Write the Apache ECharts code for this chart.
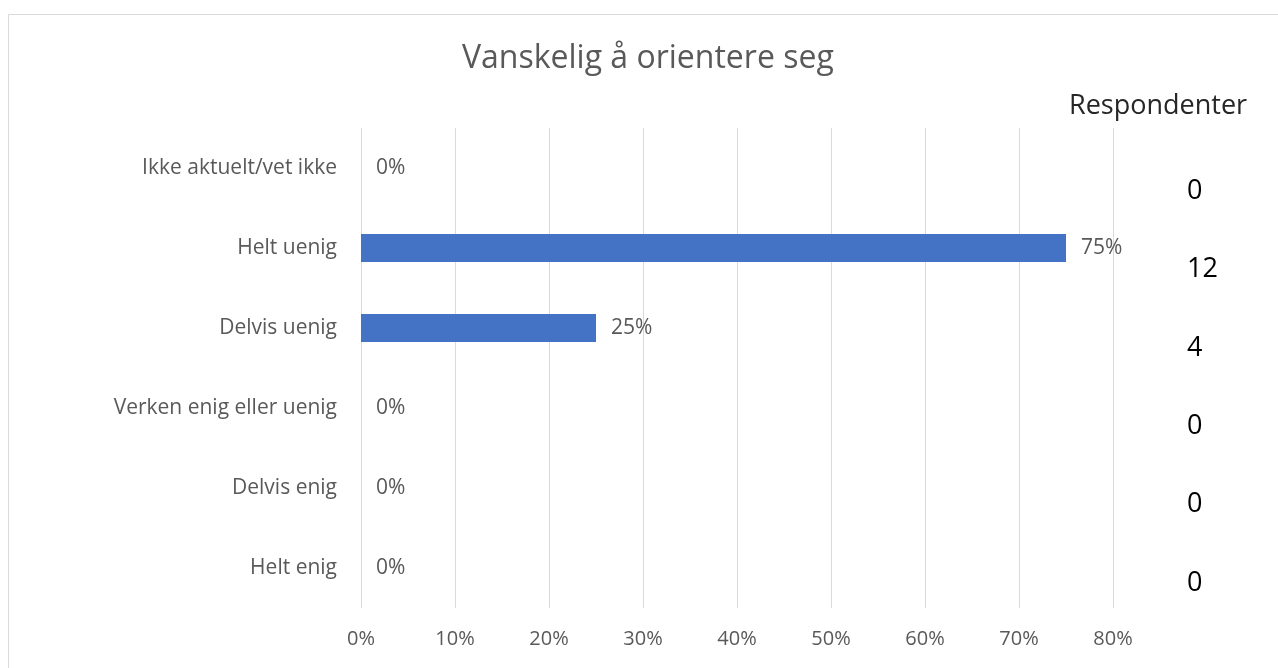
<!DOCTYPE html>
<html>
<head>
<meta charset="utf-8">
<script src="https://cdn.jsdelivr.net/npm/echarts@6/dist/echarts.min.js"></script>
<style>
html,body{margin:0;padding:0;background:#fff;}
#chart{width:1278px;height:668px;}
</style>
</head>
<body>
<div id="chart"></div>
<script>
const titleText = 'Vanskelig å orientere seg';
const categories = ['Ikke aktuelt/vet ikke', 'Helt uenig', 'Delvis uenig', 'Verken enig eller uenig', 'Delvis enig', 'Helt enig'];
const shares = [0, 0.75, 0.25, 0, 0, 0];
const respondents = [0, 12, 4, 0, 0, 0];
const respondentsHeader = 'Respondenter';
const xTicks = [0, 0.1, 0.2, 0.3, 0.4, 0.5, 0.6, 0.7, 0.8];

const FONT = 'Open Sans';
const chart = echarts.init(document.getElementById('chart'));
chart.setOption({
  animation: false,
  textStyle: { fontFamily: FONT },
  title: [
    { text: titleText, left: 457, top: 38, textStyle: { fontFamily: FONT, fontSize: 32, fontWeight: 'normal', color: '#595959' } },
    { text: respondentsHeader, left: 1064, top: 88, textStyle: { fontFamily: FONT, fontSize: 27, fontWeight: 'normal', color: '#262626' } }
  ],
  graphic: [{
    type: 'rect', silent: true,
    shape: { x: 8.5, y: 14.5, width: 1300, height: 700 },
    style: { fill: 'none', stroke: '#d9d9d9', lineWidth: 1 }
  }],
  grid: [
    { left: 361, right: 165, top: 128, bottom: 60, containLabel: false },
    { left: 1170, width: 10, top: 152, height: 470, containLabel: false }
  ],
  xAxis: [
    {
      gridIndex: 0, type: 'value', min: 0, max: xTicks[xTicks.length - 1], interval: 0.1,
      axisLine: { show: false }, axisTick: { show: false },
      splitLine: { show: true, lineStyle: { color: '#d9d9d9', width: 1 } },
      axisLabel: { color: '#595959', fontSize: 20, margin: 21, formatter: v => Math.round(v * 100) + '%' }
    },
    { gridIndex: 1, type: 'value', show: false }
  ],
  yAxis: [
    {
      gridIndex: 0, type: 'category', data: categories, inverse: true,
      axisLine: { show: false }, axisTick: { show: false }, splitLine: { show: false },
      axisLabel: { color: '#595959', fontSize: 21, margin: 24 }
    },
    {
      gridIndex: 1, type: 'category', data: respondents.map(String), inverse: true, position: 'right',
      axisLine: { show: false }, axisTick: { show: false }, splitLine: { show: false },
      axisLabel: { color: '#000000', fontSize: 27, margin: 7, align: 'left' }
    }
  ],
  series: [
    {
      type: 'bar', xAxisIndex: 0, yAxisIndex: 0, data: shares, barWidth: 28,
      itemStyle: { color: '#4472C4' },
      label: { show: true, position: 'right', distance: 15, color: '#595959', fontSize: 21,
        formatter: p => Math.round(p.value * 100) + '%' }
    }
  ]
});
</script>
</body>
</html>
